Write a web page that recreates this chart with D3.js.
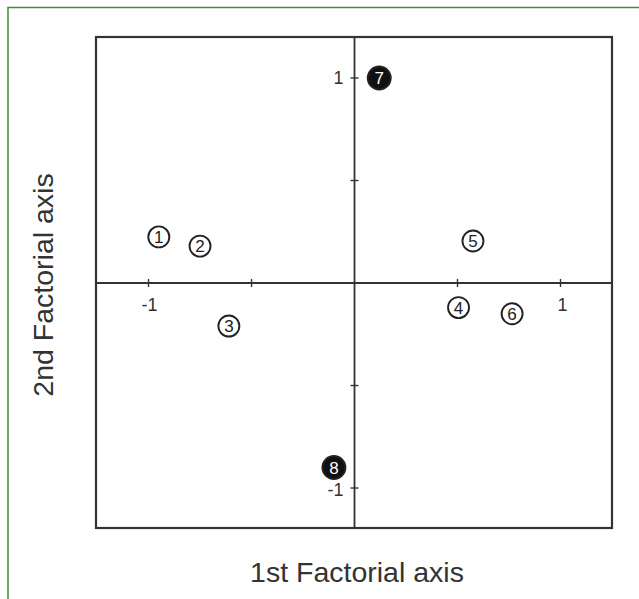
<!DOCTYPE html>
<html>
<head>
<meta charset="utf-8">
<script src="https://cdn.jsdelivr.net/npm/d3@7"></script>
<style>
  body { margin: 0; background: #fff; }
  text { font-family: "Liberation Sans", Arial, sans-serif; fill: #333; }
</style>
</head>
<body>
<svg id="canvas"></svg>
<script>
let width = 639,
height = 599

// data
let labels = ['1', '2', '3', '4', '5', '6', '7', '8']
let axis1 = [-0.95, -0.75, -0.61, 0.505, 0.575, 0.765, 0.12, -0.10]
let axis2 = [0.225, 0.18, -0.21, -0.12, 0.205, -0.15, 1.0, -0.90]
let filled = [false, false, false, false, false, false, true, true]
let xTicks = [-1, -0.5, 0.5, 1]
let yTicks = [-1, -0.5, 0.5, 1]
let xLabelTicks = [-1, 1]
let yLabelTicks = [-1, 1]

let canvas = d3.select('#canvas')
.attr('width', width)
.attr('height', height)

// green frame (top + left)
canvas.append('path')
.attr('d', `M8,${height} L8,7.5 L${width},7.5`)
.attr('fill', 'none')
.attr('stroke', '#3f8f34')
.attr('stroke-width', 1.5)

let x = d3.scaleLinear().domain([-1.255, 1.25]).range([96, 612])
let y = d3.scaleLinear().domain([-1.195, 1.2]).range([528, 37])

// box
canvas.append('rect')
.attr('x', x(-1.255))
.attr('y', y(1.2))
.attr('width', x(1.25) - x(-1.255))
.attr('height', y(-1.195) - y(1.2))
.attr('fill', 'none')
.attr('stroke', '#333')
.attr('stroke-width', 2.2)

// axes through origin
canvas.append('line')
.attr('x1', x(-1.255)).attr('x2', x(1.25))
.attr('y1', y(0)).attr('y2', y(0))
.attr('stroke', '#333').attr('stroke-width', 1.8)

canvas.append('line')
.attr('x1', x(0)).attr('x2', x(0))
.attr('y1', y(1.2)).attr('y2', y(-1.195))
.attr('stroke', '#333').attr('stroke-width', 1.8)

canvas.selectAll('.xtick')
.data(xTicks)
.join('line')
.attr('class', 'xtick')
.attr('x1', (d) => x(d)).attr('x2', (d) => x(d))
.attr('y1', y(0) - 4).attr('y2', y(0) + 4)
.attr('stroke', '#333').attr('stroke-width', 1.4)

canvas.selectAll('.ytick')
.data(yTicks)
.join('line')
.attr('class', 'ytick')
.attr('x1', x(0) - 4).attr('x2', x(0) + 4)
.attr('y1', (d) => y(d)).attr('y2', (d) => y(d))
.attr('stroke', '#333').attr('stroke-width', 1.4)

canvas.selectAll('.xlab')
.data(xLabelTicks)
.join('text')
.attr('class', 'xlab')
.attr('x', (d) => x(d) + (d < 0 ? 1 : 2))
.attr('y', y(0) + 28)
.attr('text-anchor', 'middle')
.attr('font-size', 18)
.text((d) => d)

canvas.selectAll('.ylab')
.data(yLabelTicks)
.join('text')
.attr('class', 'ylab')
.attr('x', x(0) - 11)
.attr('y', (d) => y(d) + (d < 0 ? 8 : 6))
.attr('text-anchor', 'end')
.attr('font-size', 18)
.text((d) => d)

// points
let points = canvas.selectAll('.pt')
.data(labels)
.join('g')
.attr('class', 'pt')
.attr('transform', (d, i) => `translate(${x(axis1[i])}, ${y(axis2[i])})`)

points.append('circle')
.attr('r', (d, i) => filled[i] ? 11.5 : 10.5)
.attr('fill', (d, i) => filled[i] ? '#111' : '#fff')
.attr('stroke', '#222')
.attr('stroke-width', 1.9)

points.append('text')
.attr('text-anchor', 'middle')
.attr('dy', 6)
.attr('font-size', 17)
.style('fill', (d, i) => filled[i] ? '#fff' : '#222')
.text((d) => d)

// axis titles
canvas.append('text')
.attr('x', 357)
.attr('y', 582)
.attr('text-anchor', 'middle')
.attr('font-size', 28.5)
.text('1st Factorial axis')

canvas.append('text')
.attr('transform', 'translate(53, 285) rotate(-90)')
.attr('text-anchor', 'middle')
.attr('font-size', 28.5)
.text('2nd Factorial axis')
</script>
</body>
</html>
